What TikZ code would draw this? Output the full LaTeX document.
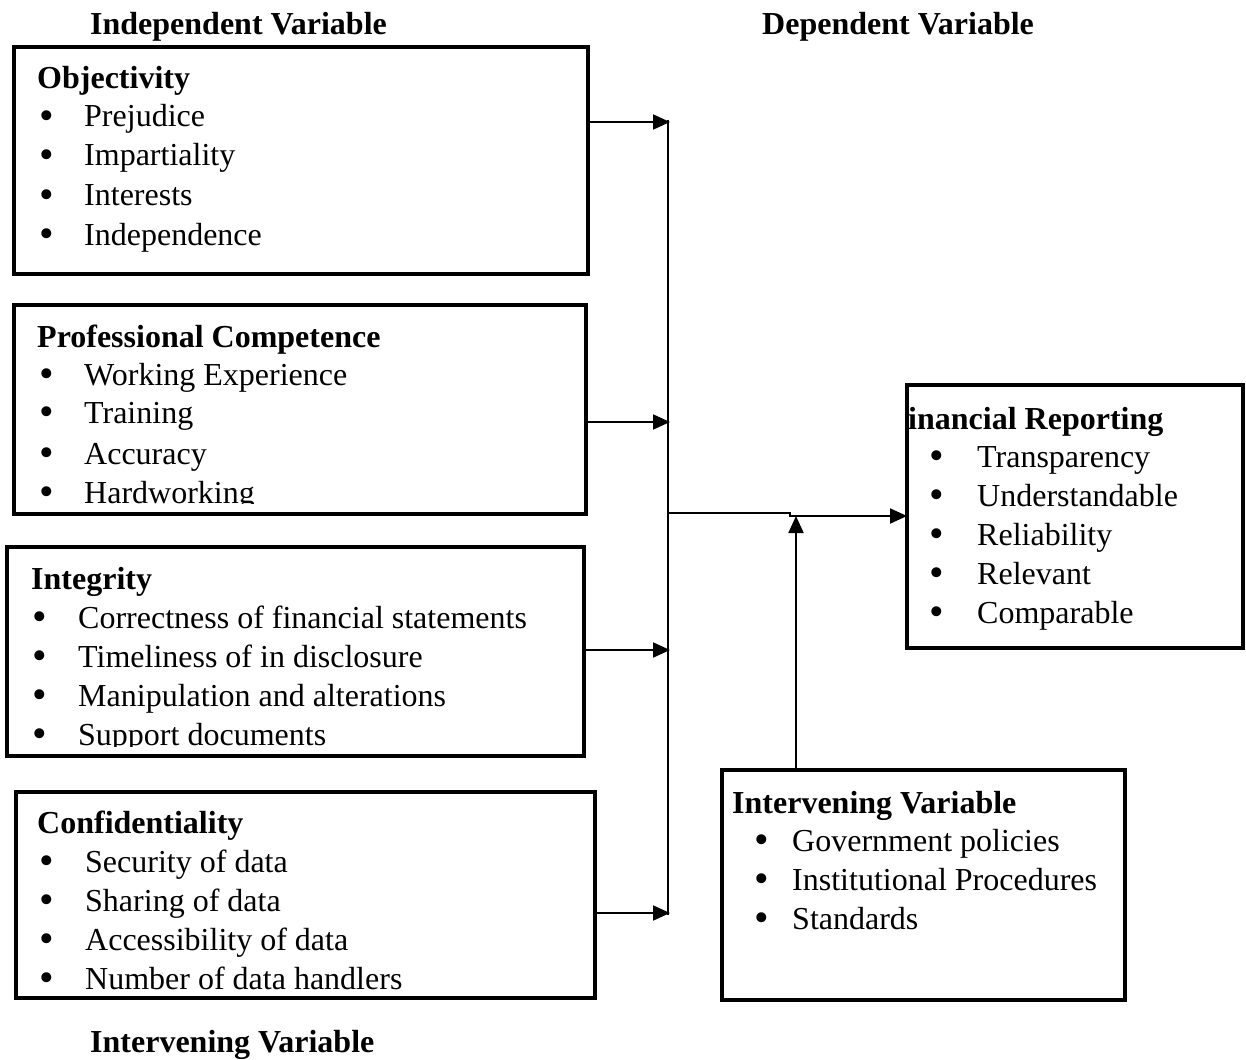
\documentclass[tikz,border=0pt]{standalone}
\usepackage{fontspec}
\setmainfont{Liberation Serif}
\usetikzlibrary{arrows.meta}

\tikzset{
  box/.style={draw, line width=4.5pt, anchor=north west, inner sep=0pt, outer sep=0pt},
  head/.style={anchor=base west, inner sep=0pt, font=\fontsize{32}{39}\selectfont\bfseries},
  item/.style={anchor=base west, inner sep=0pt},
  conn/.style={line width=2pt, -{Triangle[length=17pt,width=15pt]}},
}
\newcommand{\entry}[5]{%
  \node[item] (#1b) at (#2,#4) {\raisebox{-2.5pt}{\scalebox{1.3}{\textbullet}}};
  \node[item] (#1) at (#3,#4) {#5};}

\begin{document}
\begin{tikzpicture}[x=1pt, y=-1pt, font=\fontsize{32}{39}\selectfont]
\useasboundingbox (0,0) rectangle (1246,1059);

\node[head] (indep) at (90,35) {Independent Variable};
\node[head] (dep) at (762,35) {Dependent Variable};
\node[head] (interv) at (90,1052) {Intervening Variable};

\node[box, minimum width=574pt, minimum height=227pt] (obj) at (14,47) {};
\node[head] (objh) at (37,89) {Objectivity};
\entry{o1}{39}{84}{127}{Prejudice}
\entry{o2}{39}{84}{166}{Impartiality}
\entry{o3}{39}{84}{206}{Interests}
\entry{o4}{39}{84}{245}{Independence}

\node[box, minimum width=572pt, minimum height=209pt] (prof) at (14,305) {};
\begin{scope}
  \clip (prof.north west) rectangle ([yshift=11pt]prof.south east);
  \node[head] (profh) at (37,347) {Professional Competence};
  \entry{p1}{39}{84}{385}{Working Experience}
  \entry{p2}{39}{84}{423}{Training}
  \entry{p3}{39}{84}{464}{Accuracy}
  \entry{p4}{39}{84}{503}{Hardworking}
\end{scope}

\node[box, minimum width=577pt, minimum height=209pt] (integ) at (7,547) {};
\begin{scope}
  \clip (integ.north west) rectangle ([yshift=10pt]integ.south east);
  \node[head] (integh) at (31,589) {Integrity};
  \entry{i1}{32}{78}{628}{Correctness of financial statements}
  \entry{i2}{32}{78}{667}{Timeliness of in disclosure}
  \entry{i3}{32}{78}{706}{Manipulation and alterations}
  \entry{i4}{32}{78}{745}{Support documents}
\end{scope}

\node[box, minimum width=579pt, minimum height=206pt] (conf) at (16,792) {};
\node[head] (confh) at (37,833) {Confidentiality};
\entry{c1}{39}{85}{872}{Security of data}
\entry{c2}{39}{85}{911}{Sharing of data}
\entry{c3}{39}{85}{950}{Accessibility of data}
\entry{c4}{39}{85}{989}{Number of data handlers}

\node[box, minimum width=336pt, minimum height=263pt] (fin) at (907,385) {};
\node[head] (finh) at (908,429) {inancial Reporting};
\entry{f1}{929}{977}{467}{Transparency}
\entry{f2}{929}{977}{506}{Understandable}
\entry{f3}{929}{977}{545}{Reliability}
\entry{f4}{929}{977}{584}{Relevant}
\entry{f5}{929}{977}{623}{Comparable}

\node[box, minimum width=403pt, minimum height=230pt] (inter) at (722,770) {};
\node[head] (interh) at (732,813) {Intervening Variable};
\entry{v1}{754}{792}{851}{Government policies}
\entry{v2}{754}{792}{890}{Institutional Procedures}
\entry{v3}{754}{792}{929}{Standards}

\coordinate (top) at (668,120);
\coordinate (bot) at (668,915);
\coordinate (b1) at (670,122);
\coordinate (b2) at (670,422);
\coordinate (b3) at (670,650);
\coordinate (b4) at (670,913);
\coordinate (mid) at (668,513);
\coordinate (jog) at (790,516);
\coordinate (up) at (796,516);

\draw[line width=2pt] (top) -- (bot);
\draw[conn] (b1 -| obj.east) -- (b1);
\draw[conn] (b2 -| prof.east) -- (b2);
\draw[conn] (b3 -| integ.east) -- (b3);
\draw[conn] (b4 -| conf.east) -- (b4);
\draw[conn] (mid) -- (mid -| jog) -- (jog) -- (jog -| fin.west);
\draw[conn] (up |- inter.north) -- (up);
\end{tikzpicture}
\end{document}
